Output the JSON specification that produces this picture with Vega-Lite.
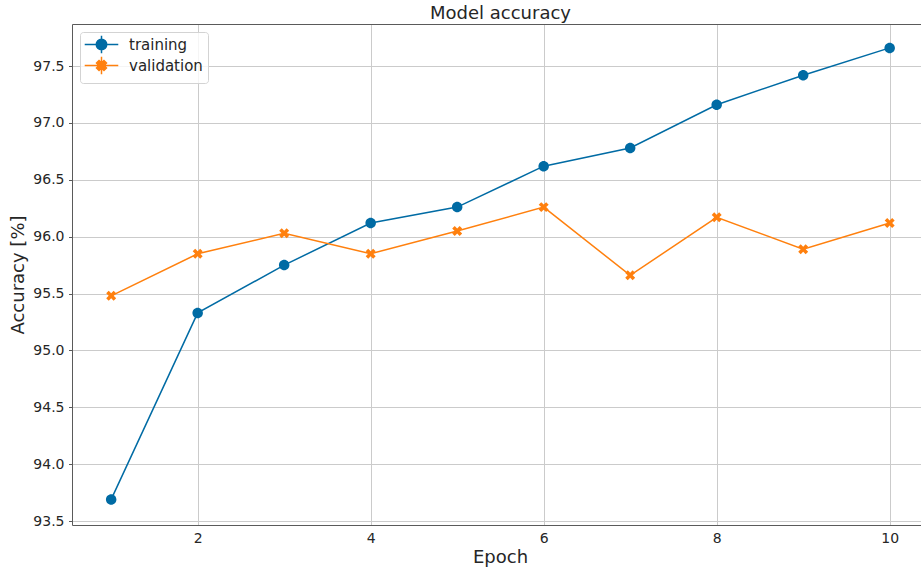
{
  "$schema": "https://vega.github.io/schema/vega-lite/v6.json",
  "width": 849,
  "height": 501,
  "autosize": {"type": "none"},
  "padding": {"left": 72, "top": 24, "right": 0, "bottom": 47},
  "background": "white",
  "title": {
    "text": "Model accuracy",
    "font": "DejaVu Sans",
    "fontSize": 18,
    "fontWeight": "normal",
    "color": "#262626",
    "anchor": "middle",
    "baseline": "alphabetic",
    "offset": 5,
    "dx": 4,
    "dy": 18
  },
  "data": {
    "values": [
      {"epoch": 1, "series": "training", "accuracy": 93.69},
      {"epoch": 2, "series": "training", "accuracy": 95.33},
      {"epoch": 3, "series": "training", "accuracy": 95.75},
      {"epoch": 4, "series": "training", "accuracy": 96.12},
      {"epoch": 5, "series": "training", "accuracy": 96.26},
      {"epoch": 6, "series": "training", "accuracy": 96.62},
      {"epoch": 7, "series": "training", "accuracy": 96.78},
      {"epoch": 8, "series": "training", "accuracy": 97.16},
      {"epoch": 9, "series": "training", "accuracy": 97.42},
      {"epoch": 10, "series": "training", "accuracy": 97.66},
      {"epoch": 1, "series": "validation", "accuracy": 95.48},
      {"epoch": 2, "series": "validation", "accuracy": 95.85},
      {"epoch": 3, "series": "validation", "accuracy": 96.03},
      {"epoch": 4, "series": "validation", "accuracy": 95.85},
      {"epoch": 5, "series": "validation", "accuracy": 96.05},
      {"epoch": 6, "series": "validation", "accuracy": 96.26},
      {"epoch": 7, "series": "validation", "accuracy": 95.66},
      {"epoch": 8, "series": "validation", "accuracy": 96.17},
      {"epoch": 9, "series": "validation", "accuracy": 95.89},
      {"epoch": 10, "series": "validation", "accuracy": 96.12}
    ]
  },
  "encoding": {
    "y": {
      "field": "accuracy",
      "type": "quantitative",
      "scale": {"domain": [93.465, 97.87], "nice": false, "zero": false},
      "axis": {
        "title": "Accuracy [%]",
        "values": [93.5, 94, 94.5, 95, 95.5, 96, 96.5, 97, 97.5],
        "format": ".1f",
        "tickSize": 3.5,
        "labelPadding": 4.5,
        "titlePadding": 5
      }
    },
    "stroke": {
      "field": "series",
      "type": "nominal",
      "scale": {"domain": ["training", "validation"], "range": ["#006BA4", "#FF800E"]},
      "legend": {
        "title": null,
        "encode": {"symbols": {"update": {"strokeWidth": {"value": 1.5}, "opacity": {"value": 1}}}}
      }
    }
  },
  "layer": [
    {
      "mark": {"type": "line", "strokeWidth": 1.5},
      "encoding": {
        "x": {
          "field": "epoch",
          "type": "quantitative",
          "scale": {"domain": [0.547, 10.362], "nice": false, "zero": false},
          "axis": {
            "title": "Epoch",
            "values": [2, 4, 6, 8, 10],
            "tickSize": 0,
            "labelPadding": 6,
            "titlePadding": 3,
            "titleX": 428
          }
        }
      }
    },
    {
      "mark": {"type": "point", "filled": true, "size": 110, "strokeWidth": 0, "opacity": 1},
      "encoding": {
        "x": {
          "field": "epoch",
          "type": "quantitative",
          "scale": {"domain": [0.547, 10.362], "nice": false, "zero": false},
          "axis": {"orient": "top", "labels": false, "ticks": false, "grid": false, "title": null}
        },
        "fill": {
          "field": "series",
          "type": "nominal",
          "scale": {"domain": ["training", "validation"], "range": ["#006BA4", "#FF800E"]},
          "legend": {
            "title": null,
            "encode": {"symbols": {"update": {"strokeWidth": {"value": 1.5}, "opacity": {"value": 1}}}}
          }
        },
        "shape": {
          "field": "series",
          "type": "nominal",
          "scale": {
            "domain": ["training", "validation"],
            "range": [
              "M-3.2,0L3.2,0M0,-1.65L0,1.65M-1,0A1,1 0 1,0 1,0A1,1 0 1,0 -1,0Z",
              "M-3.2,0L3.2,0M0,-1.65L0,1.65M-0.47,-0.95L0,-0.48L0.47,-0.95L0.95,-0.47L0.48,0L0.95,0.47L0.47,0.95L0,0.48L-0.47,0.95L-0.95,0.47L-0.48,0L-0.95,-0.47Z"
            ]
          },
          "legend": {
            "title": null,
            "encode": {"symbols": {"update": {"strokeWidth": {"value": 1.5}, "opacity": {"value": 1}}}}
          }
        }
      }
    }
  ],
  "resolve": {"axis": {"x": "independent"}},
  "config": {
    "view": {"stroke": null},
    "font": "DejaVu Sans",
    "axis": {
      "labelFont": "DejaVu Sans",
      "labelFontSize": 14,
      "labelColor": "#262626",
      "titleFont": "DejaVu Sans",
      "titleFontSize": 18,
      "titleFontWeight": "normal",
      "titleColor": "#262626",
      "domainColor": "#5a5a5a",
      "domainWidth": 1,
      "tickColor": "#5a5a5a",
      "gridColor": "#cbcbcb",
      "gridWidth": 1,
      "labelFlush": false,
      "labelOverlap": false
    },
    "legend": {
      "orient": "top-left",
      "offset": 8,
      "labelFont": "DejaVu Sans",
      "labelFontSize": 15,
      "labelColor": "#262626",
      "symbolSize": 110,
      "padding": 5,
      "rowPadding": -4,
      "symbolOffset": 9,
      "labelOffset": 20,
      "strokeColor": "#d3d3d3",
      "fillColor": "rgba(255,255,255,0.8)",
      "cornerRadius": 3
    }
  }
}
